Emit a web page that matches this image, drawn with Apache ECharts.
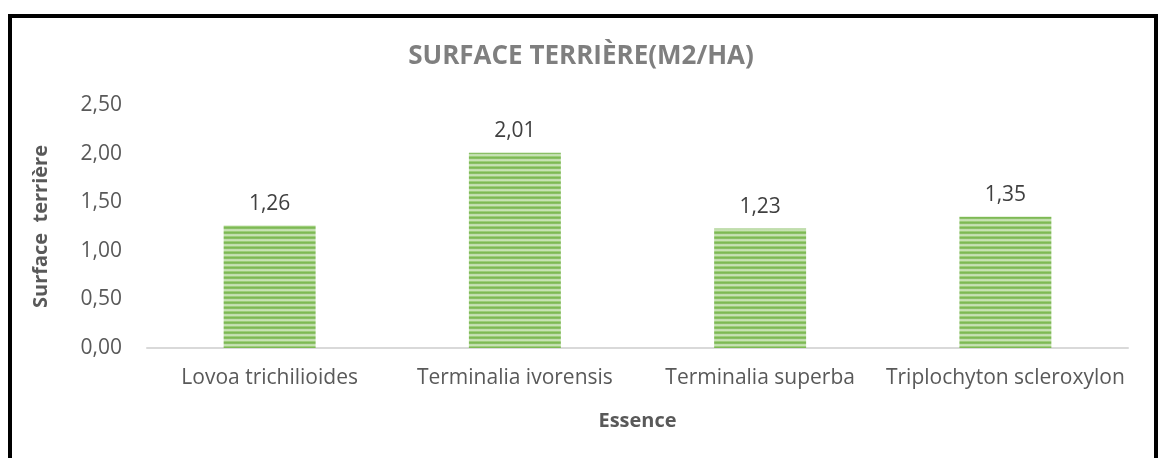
<!DOCTYPE html>
<html>
<head>
<meta charset="utf-8">
<script src="https://cdn.jsdelivr.net/npm/echarts@6/dist/echarts.min.js"></script>
<style>
  html, body { margin: 0; padding: 0; background: #fff; }
  #frame {
    position: absolute; left: 8px; top: 14px; width: 1150px; height: 460px;
    border: 4px solid #000; border-bottom: none; box-sizing: border-box;
  }
  #chart { position: absolute; left: 0; top: 0; width: 1162px; height: 458px; }
</style>
</head>
<body>
<div id="chart"></div>
<div id="frame"></div>
<script>
// données
const categories = ["Lovoa trichilioides", "Terminalia ivorensis", "Terminalia superba", "Triplochyton scleroxylon"];
const surface = [1.26, 2.01, 1.23, 1.35];
const yTicks = [0, 0.5, 1, 1.5, 2, 2.5];

// motif de rayures horizontales pour les barres
function stripes() {
  let c = document.createElement("canvas");
  c.width = 8;
  c.height = 5;
  let ctx = c.getContext("2d");
  let g = ctx.createLinearGradient(0, 0, 0, 5);
  g.addColorStop(0, "#dcedd0");
  g.addColorStop(0.35, "#92c86c");
  g.addColorStop(0.6, "#6fb043");
  g.addColorStop(1, "#dcedd0");
  ctx.fillStyle = g;
  ctx.fillRect(0, 0, 8, 5);
  return c;
}

const fmt = (v) => v.toFixed(2).replace(".", ",");
const font = "'Open Sans', 'DejaVu Sans', sans-serif";

let chart = echarts.init(document.getElementById("chart"));
chart.setOption({
  animation: false,
  textStyle: { fontFamily: font },
  title: {
    text: "SURFACE TERRIÈRE(M2/HA)",
    left: "center",
    top: 39,
    textStyle: { fontSize: 26, fontWeight: "bold", color: "#7f7f7f", fontFamily: font }
  },
  grid: { left: 147, right: 34, top: 105, bottom: 110 },
  xAxis: {
    type: "category",
    data: categories,
    name: "Essence",
    nameLocation: "middle",
    nameGap: 63,
    nameTextStyle: { fontSize: 20, fontWeight: "bold", color: "#595959" },
    axisLine: { lineStyle: { color: "#d9d9d9", width: 2 } },
    axisTick: { show: false },
    axisLabel: { fontSize: 21, color: "#595959", margin: 20, interval: 0 }
  },
  yAxis: {
    type: "value",
    min: yTicks[0],
    max: yTicks[yTicks.length - 1],
    interval: 0.5,
    name: "Surface  terrière",
    nameLocation: "middle",
    nameGap: 96,
    nameTextStyle: { fontSize: 20, fontWeight: "bold", color: "#595959" },
    splitLine: { show: false },
    axisLine: { show: false },
    axisTick: { show: false },
    axisLabel: { fontSize: 21, color: "#595959", margin: 25, formatter: fmt }
  },
  series: [{
    type: "bar",
    data: surface,
    barWidth: "37.5%",
    itemStyle: { color: { image: stripes(), repeat: "repeat" } },
    label: {
      show: true,
      position: "top",
      distance: 11,
      fontSize: 21,
      color: "#404040",
      formatter: (p) => fmt(p.value)
    }
  }]
});
</script>
</body>
</html>
